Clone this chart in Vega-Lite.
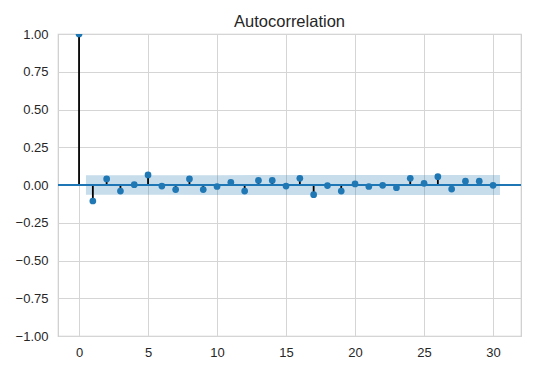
{
  "$schema": "https://vega.github.io/schema/vega-lite/v6.json",
  "width": 463,
  "height": 302,
  "autosize": "none",
  "padding": {"left": 58, "top": 34, "right": 29, "bottom": 45},
  "background": "white",
  "title": {"text": "Autocorrelation", "fontSize": 16.5, "font": "Liberation Sans", "fontWeight": "normal", "color": "#262626", "offset": -2, "anchor": "middle"},
  "config": {
    "view": {"stroke": "#cccccc", "strokeWidth": 1.2},
    "axis": {"grid": true, "gridColor": "#d5d5d5", "gridWidth": 1, "domain": false, "ticks": false, "labelFont": "Liberation Sans", "labelFontSize": 13, "labelColor": "#262626", "labelPadding": 10, "labelOverlap": false, "title": null}
  },
  "datasets": {
    "acf": [
      {"lag": 0, "acf": 1.0},
      {"lag": 1, "acf": -0.106},
      {"lag": 2, "acf": 0.04},
      {"lag": 3, "acf": -0.04},
      {"lag": 4, "acf": 0.002},
      {"lag": 5, "acf": 0.067},
      {"lag": 6, "acf": -0.007},
      {"lag": 7, "acf": -0.03},
      {"lag": 8, "acf": 0.04},
      {"lag": 9, "acf": -0.03},
      {"lag": 10, "acf": -0.01},
      {"lag": 11, "acf": 0.018},
      {"lag": 12, "acf": -0.04},
      {"lag": 13, "acf": 0.03},
      {"lag": 14, "acf": 0.03},
      {"lag": 15, "acf": -0.007},
      {"lag": 16, "acf": 0.044},
      {"lag": 17, "acf": -0.064},
      {"lag": 18, "acf": -0.004},
      {"lag": 19, "acf": -0.04},
      {"lag": 20, "acf": 0.007},
      {"lag": 21, "acf": -0.01},
      {"lag": 22, "acf": -0.002},
      {"lag": 23, "acf": -0.018},
      {"lag": 24, "acf": 0.044},
      {"lag": 25, "acf": 0.011},
      {"lag": 26, "acf": 0.055},
      {"lag": 27, "acf": -0.027},
      {"lag": 28, "acf": 0.025},
      {"lag": 29, "acf": 0.025},
      {"lag": 30, "acf": -0.002}
    ],
    "band": [
      {"lag": 0.5, "lo": -0.064, "hi": 0.064},
      {"lag": 2, "lo": -0.0647, "hi": 0.0647},
      {"lag": 5, "lo": -0.0649, "hi": 0.0649},
      {"lag": 6, "lo": -0.0652, "hi": 0.0652},
      {"lag": 10, "lo": -0.0654, "hi": 0.0654},
      {"lag": 13, "lo": -0.0656, "hi": 0.0656},
      {"lag": 15, "lo": -0.0657, "hi": 0.0657},
      {"lag": 17, "lo": -0.0659, "hi": 0.0659},
      {"lag": 18, "lo": -0.0662, "hi": 0.0662},
      {"lag": 24, "lo": -0.0664, "hi": 0.0664},
      {"lag": 26, "lo": -0.0665, "hi": 0.0665},
      {"lag": 30.5, "lo": -0.0667, "hi": 0.0667}
    ]
  },
  "layer": [
    {
      "data": {"name": "band"},
      "mark": {"type": "area", "color": "#1f77b4", "opacity": 0.25},
      "encoding": {
        "x": {"field": "lag", "type": "quantitative", "scale": {"domain": [-1.525, 32.025], "nice": false, "zero": false}, "axis": {"values": [0, 5, 10, 15, 20, 25, 30]}},
        "y": {"field": "lo", "type": "quantitative", "scale": {"domain": [-1, 1], "nice": false}, "axis": {"values": [-1, -0.75, -0.5, -0.25, 0, 0.25, 0.5, 0.75, 1], "tickCount": 9, "format": ".2f", "labelExpr": "replace(datum.label, '-', '\u2212')"}},
        "y2": {"field": "hi"}
      }
    },
    {
      "data": {"name": "acf"},
      "mark": {"type": "rule", "color": "black", "strokeWidth": 1.8},
      "encoding": {"x": {"field": "lag", "type": "quantitative"}, "y": {"field": "acf", "type": "quantitative", "axis": {"values": [-1, -0.75, -0.5, -0.25, 0, 0.25, 0.5, 0.75, 1], "tickCount": 9, "format": ".2f", "labelExpr": "replace(datum.label, '-', '\u2212')"}}, "y2": {"datum": 0}}
    },
    {
      "data": {"name": "acf"},
      "mark": {"type": "rule", "color": "#1f77b4", "strokeWidth": 1.6},
      "encoding": {"y": {"datum": 0, "type": "quantitative", "axis": {"values": [-1, -0.75, -0.5, -0.25, 0, 0.25, 0.5, 0.75, 1], "tickCount": 9, "format": ".2f", "labelExpr": "replace(datum.label, '-', '\u2212')"}}}
    },
    {
      "data": {"name": "acf"},
      "mark": {"type": "point", "filled": true, "color": "#1f77b4", "opacity": 1, "size": 45, "clip": true},
      "encoding": {"x": {"field": "lag", "type": "quantitative"}, "y": {"field": "acf", "type": "quantitative", "axis": {"values": [-1, -0.75, -0.5, -0.25, 0, 0.25, 0.5, 0.75, 1], "tickCount": 9, "format": ".2f", "labelExpr": "replace(datum.label, '-', '\u2212')"}}}
    }
  ]
}
